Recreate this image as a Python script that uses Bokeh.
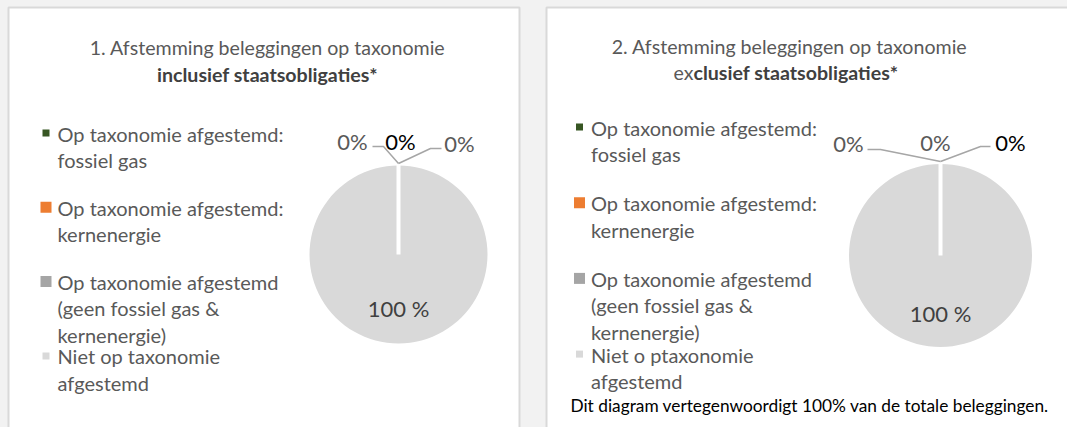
import math
from bokeh.plotting import figure
from bokeh.models import Range1d
from bokeh.core.properties import value
from bokeh.embed import file_html
from bokeh.resources import INLINE

# ---------------- data ----------------
categories = [
    "Op taxonomie afgestemd: fossiel gas",
    "Op taxonomie afgestemd: kernenergie",
    "Op taxonomie afgestemd (geen fossiel gas & kernenergie)",
    "Niet op taxonomie afgestemd",
]
legend_incl = [
    "Op taxonomie afgestemd:\nfossiel gas",
    "Op taxonomie afgestemd:\nkernenergie",
    "Op taxonomie afgestemd\n(geen fossiel gas &\nkernenergie)",
    "Niet op taxonomie\nafgestemd",
]
legend_excl = [
    "Op taxonomie afgestemd:\nfossiel gas",
    "Op taxonomie afgestemd:\nkernenergie",
    "Op taxonomie afgestemd\n(geen fossiel gas &\nkernenergie)",
    "Niet o ptaxonomie\nafgestemd",
]
incl_values = [0, 0, 0, 100]
excl_values = [0, 0, 0, 100]
incl_labels = ["0%", "0%", "0%", "100 %"]
excl_labels = ["0%", "0%", "0%", "100 %"]
title_incl = ["1. Afstemming beleggingen op taxonomie", "", "inclusief staatsobligaties*"]
title_excl = ["2. Afstemming beleggingen op taxonomie", "ex", "clusief staatsobligaties*"]
footnote = "Dit diagram vertegenwoordigt 100% van de totale beleggingen."

# ---------------- styles ----------------
slice_colors = ["#375623", "#ED7D31", "#A5A5A5", "#D9D9D9"]
marker_sizes = [7, 11, 11, 7]
FONT = "Lato"
TXT = "#595959"
W, H = 1067, 427
OX, OY = 0, 0  # page offset of the figure (Bokeh template has no body margin)


def Y(py):
    return (OY + H) - py


p = figure(width=W, height=H, x_range=Range1d(OX, OX + W), y_range=Range1d(0, H),
           x_axis_type=None, y_axis_type=None, toolbar_location=None,
           output_backend="svg", min_border=0, outline_line_color=None,
           background_fill_color="#F2F2F2", border_fill_color="#F2F2F2")
p.grid.visible = False

panels = [
    dict(x0=8, x1=519, cx=398, cy=254, r=89, tx=267, t1=47, t2=74, t2x=None,
         lx=57, mx=45.5, ly0=133, lstep=74.3, lline=26.3,
         values=incl_values, labels=incl_labels, legend=legend_incl, title=title_incl,
         lab_pos=[(352, 141), (400, 141), (459, 143)], lab_dark=1, big_pos=(398, 308),
         leaders=[[(372, 146), (383, 146), (398, 163)], [(398, 163), (430, 148), (441, 148)]]),
    dict(x0=546, x1=1085, cx=940, cy=255, r=91.5, tx=789, t1=45.5, t2=72, t2x=693,
         lx=590.5, mx=579, ly0=127, lstep=75.7, lline=26.4,
         values=excl_values, labels=excl_labels, legend=legend_excl, title=title_excl,
         lab_pos=[(848, 143), (935, 142), (1010, 142)], lab_dark=2, big_pos=(940, 313),
         leaders=[[(867, 149), (880, 149), (940, 161)], [(940, 161), (980, 146), (990, 146)]]),
]

for pn in panels:
    # panel box
    p.quad(left=pn["x0"], right=pn["x1"], top=Y(7), bottom=Y(460),
           fill_color="white", line_color="#D9D9D9", line_width=2)

    # title
    p.text(x=[pn["tx"]], y=[Y(pn["t1"])], text=[pn["title"][0]], text_font=value(FONT),
           text_font_size="19.6px", text_color=TXT, text_align="center", text_baseline="middle")
    if pn["t2x"] is None:
        p.text(x=[pn["tx"]], y=[Y(pn["t2"])], text=[pn["title"][2]], text_font=value(FONT),
               text_font_size="19.6px", text_font_style="bold", text_color="#404040",
               text_align="center", text_baseline="middle")
    else:
        p.text(x=[pn["t2x"]], y=[Y(pn["t2"])], text=[pn["title"][1]], text_font=value(FONT),
               text_font_size="19.6px", text_color=TXT, text_align="right", text_baseline="middle")
        p.text(x=[pn["t2x"]], y=[Y(pn["t2"])], text=[pn["title"][2]], text_font=value(FONT),
               text_font_size="19.6px", text_font_style="bold", text_color="#404040",
               text_align="left", text_baseline="middle")

    # legend
    for i, (lab, col) in enumerate(zip(pn["legend"], slice_colors)):
        y0 = pn["ly0"] + i * pn["lstep"]
        p.scatter(x=[pn["mx"]], y=[Y(y0 - 0.5)], marker="square", size=marker_sizes[i],
                  fill_color=col, line_color=None)
        for j, line in enumerate(lab.split("\n")):
            p.text(x=[pn["lx"]], y=[Y(y0 + j * pn["lline"])], text=[line], text_font=value(FONT),
                   text_font_size="20px", text_color=TXT, text_align="left",
                   text_baseline="middle")

    # pie (clockwise from 12 o'clock)
    vals = pn["values"]
    total = float(sum(vals))
    cum = 0.0
    starts, ends = [], []
    for v in vals:
        starts.append(math.pi / 2 - 2 * math.pi * cum / total)
        cum += v
        ends.append(math.pi / 2 - 2 * math.pi * cum / total)
    for i, v in enumerate(vals):
        if v <= 0:
            continue
        e = ends[i]
        if starts[i] - e >= 2 * math.pi - 1e-9:
            e = starts[i] - 2 * math.pi + 1e-3  # full slice: avoid degenerate arc
        p.wedge(x=pn["cx"], y=Y(pn["cy"]), radius=pn["r"], start_angle=starts[i],
                end_angle=e, direction="clock", fill_color=slice_colors[i],
                line_color=None)
    # white slice separators (zero slices / slice edges at 12 o'clock)
    edge_angles = sorted(set(round(a, 9) for a in starts))
    for a in edge_angles:
        p.segment(x0=[pn["cx"]], y0=[Y(pn["cy"])], x1=[pn["cx"] + (pn["r"] + 1) * math.cos(a)],
                  y1=[Y(pn["cy"]) + (pn["r"] + 1) * math.sin(a)], line_color="white",
                  line_width=4)

    # leader lines
    for pts in pn["leaders"]:
        p.line(x=[q[0] for q in pts], y=[Y(q[1]) for q in pts], line_color="#A6A6A6",
               line_width=1.5)

    # data labels
    for k, (lx, ly) in enumerate(pn["lab_pos"]):
        p.text(x=[lx], y=[Y(ly)], text=[pn["labels"][k]], text_font=value(FONT),
               text_font_size="22px", text_color="#000000" if k == pn["lab_dark"] else TXT,
               text_align="center", text_baseline="middle")
    bx, by = pn["big_pos"]
    p.text(x=[bx], y=[Y(by)], text=[pn["labels"][3]], text_font=value(FONT),
           text_font_size="22px", text_color="#404040", text_align="center",
           text_baseline="middle")

# footnote
p.text(x=[570], y=[Y(405)], text=[footnote], text_font=value(FONT), text_font_size="17.3px",
       text_color="#000000", text_align="left", text_baseline="middle")

html = file_html(p, INLINE)
html = html.replace("<head>", "<head><style>body{background:#F2F2F2;}</style>", 1)
open("out.html", "w").write(html)
